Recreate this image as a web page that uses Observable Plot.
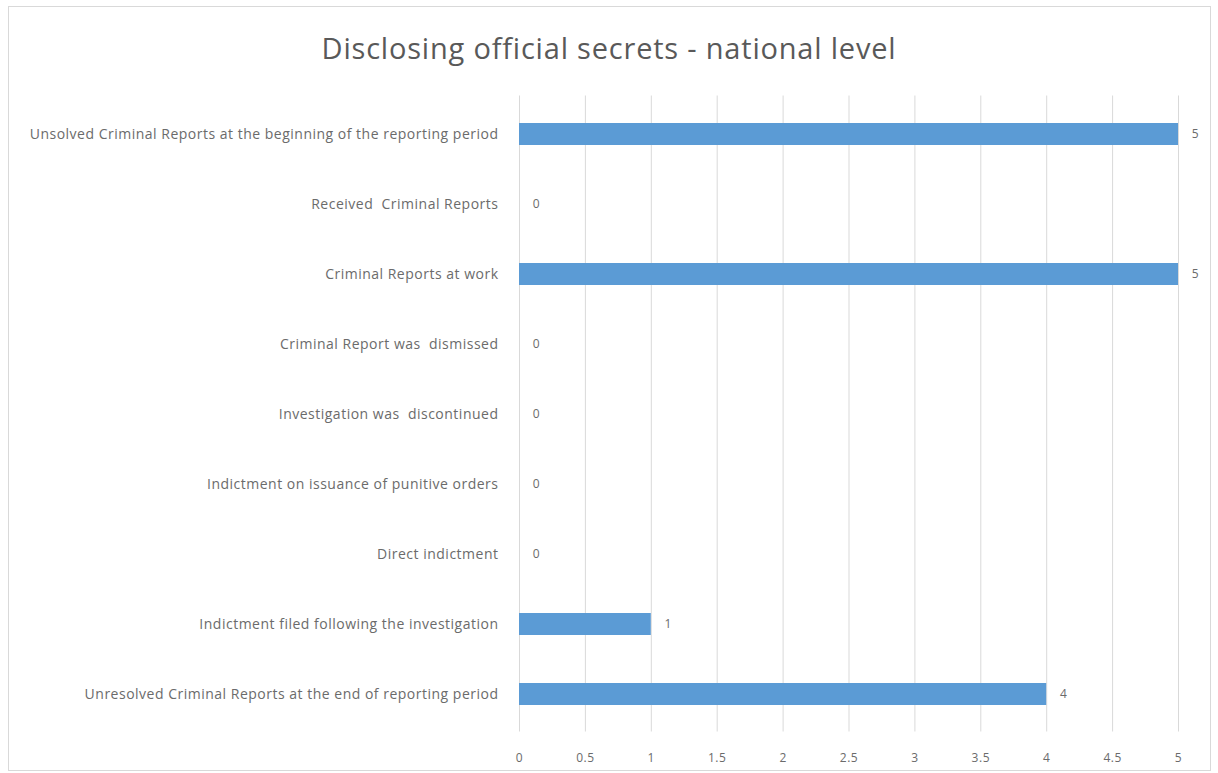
<!DOCTYPE html>
<html><head><meta charset="utf-8">
<script src="https://cdn.jsdelivr.net/npm/d3@7"></script>
<script src="https://cdn.jsdelivr.net/npm/@observablehq/plot@0.6"></script>
<style>
body{margin:0;background:#fff;font-family:"Open Sans",sans-serif;}
#frame{position:absolute;left:8px;top:6px;width:1201px;height:763px;border:1px solid #d9d9d9;}
#title{position:absolute;left:0;top:0;width:1218px;height:80px;text-align:center;font-size:29px;letter-spacing:0.8px;color:#595959;line-height:96px;}
#chart{position:absolute;left:0;top:80px;}
</style></head>
<body>
<div id="frame"></div>
<div id="title">Disclosing official secrets - national level</div>
<div id="chart"></div>
<script>
const categories = [
  "Unsolved Criminal Reports at the beginning of the reporting period",
  "Received  Criminal Reports",
  "Criminal Reports at work",
  "Criminal Report was  dismissed",
  "Investigation was  discontinued",
  "Indictment on issuance of punitive orders",
  "Direct indictment",
  "Indictment filed following the investigation",
  "Unresolved Criminal Reports at the end of reporting period"
];
const values = [5, 0, 5, 0, 0, 0, 0, 1, 4];
const xTicks = [0, 0.5, 1, 1.5, 2, 2.5, 3, 3.5, 4, 4.5, 5];
const data = categories.map((c, i) => ({category: c, value: values[i]}));

const chart = Plot.plot({
  width: 1218,
  height: 693,
  marginLeft: 519,
  marginRight: 40,
  marginTop: 15.5,
  marginBottom: 41.5,
  style: {fontFamily: "'Open Sans', sans-serif", color: "#6b6b6b", background: "transparent", letterSpacing: "0.5px"},
  x: {domain: [0, 5], ticks: xTicks, tickFormat: d => String(d)},
  y: {domain: categories, paddingInner: 0.69, paddingOuter: 0.345, label: null},
  marks: [
    Plot.gridX(xTicks, {stroke: "#d9d9d9", strokeOpacity: 1}),
    Plot.barX(data, {x: "value", y: "category", fill: "#5B9BD5"}),
    Plot.text(data, {x: "value", y: "category", text: d => String(d.value), dx: 17, fill: "#6b6b6b", fontSize: 12}),
    Plot.axisX(xTicks, {tickSize: 0, tickPadding: 21, fontSize: 12, label: null, tickFormat: d => String(d), fill: "#6b6b6b"}),
    Plot.axisY({tickSize: 0, tickPadding: 21, fontSize: 14, label: null, fill: "#6b6b6b"})
  ]
});
document.getElementById("chart").appendChild(chart);
</script>
</body></html>
